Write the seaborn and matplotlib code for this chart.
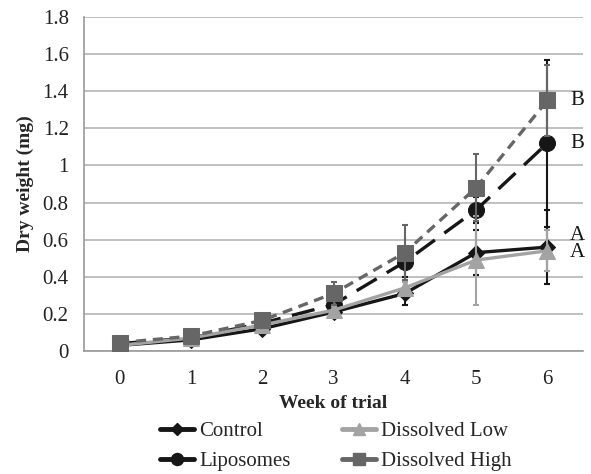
import numpy as np
import pandas as pd
import matplotlib
matplotlib.use("Agg")
import matplotlib.pyplot as plt
import seaborn as sns
from matplotlib.lines import Line2D

weeks = [0, 1, 2, 3, 4, 5, 6]
series_names = ["Control", "Liposomes", "Dissolved Low", "Dissolved High"]
control = [0.03, 0.06, 0.12, 0.21, 0.31, 0.53, 0.56]
control_err = [0.005, 0.01, 0.02, 0.02, 0.06, 0.12, 0.20]
liposomes = [0.04, 0.07, 0.15, 0.25, 0.48, 0.76, 1.12]
liposomes_err = [0.005, 0.01, 0.02, 0.03, 0.08, 0.07, 0.45]
dis_low = [0.03, 0.07, 0.14, 0.22, 0.34, 0.49, 0.54]
dis_low_err = [0.005, 0.01, 0.01, 0.02, 0.03, 0.24, 0.11]
dis_high = [0.045, 0.08, 0.165, 0.31, 0.53, 0.88, 1.35]
dis_high_err = [0.005, 0.01, 0.01, 0.06, 0.15, 0.18, 0.19]
letters = ["A", "B", "A", "B"]
y_ticks = [0, 0.2, 0.4, 0.6, 0.8, 1.0, 1.2, 1.4, 1.6, 1.8]
y_tick_labels = ["0", "0.2", "0.4", "0.6", "0.8", "1", "1.2", "1.4", "1.6", "1.8"]

values = [control, liposomes, dis_low, dis_high]
errors = [control_err, liposomes_err, dis_low_err, dis_high_err]

sns.set_theme(style="white")
plt.rcParams["font.family"] = ["Liberation Serif", "DejaVu Serif"]

colors = {"Control": "#161616", "Liposomes": "#161616",
          "Dissolved Low": "#a3a3a3", "Dissolved High": "#666666"}
markers = {"Control": "D", "Liposomes": "o", "Dissolved Low": "^", "Dissolved High": "s"}
msizes = {"Control": 8, "Liposomes": 11.5, "Dissolved Low": 11, "Dissolved High": 12}
dashes = {"Control": "", "Liposomes": (7, 3.5), "Dissolved Low": "", "Dissolved High": (3, 2)}
zorders = {"Control": 3, "Liposomes": 4, "Dissolved Low": 5, "Dissolved High": 6}
letter_offsets = {"Control": 0.065, "Dissolved Low": -0.01, "Liposomes": 0.0, "Dissolved High": 0.0}

rows = []
for name, v in zip(series_names, values):
    for w, val in zip(weeks, v):
        rows.append({"week": w, "weight": val, "series": name})
df = pd.DataFrame(rows)

fig = plt.figure(figsize=(5.91, 4.74), dpi=100)
ax = fig.add_axes([84 / 591, 1 - 351 / 474, (583 - 84) / 591, (351 - 17) / 474])

for name, v, e in zip(series_names, values, errors):
    sub = df[df["series"] == name]
    ax.errorbar(weeks, v, yerr=e, fmt="none", ecolor=colors[name], elinewidth=1.5,
                capsize=2.5, capthick=1.5, zorder=zorders[name] - 0.5)
    sns.lineplot(data=sub, x="week", y="weight", ax=ax, color=colors[name],
                 marker=markers[name], markersize=msizes[name],
                 markeredgecolor=colors[name], linewidth=2.4,
                 zorder=zorders[name], legend=False)
    if dashes[name]:
        ax.lines[-1].set_dashes(dashes[name])

for name, v, lt in zip(series_names, values, letters):
    ax.text(6.32, v[-1] + letter_offsets[name], lt, fontsize=15, va="center", ha="left",
            color="#161616")

ax.set_xlim(-0.5, 6.5)
ax.set_ylim(0, 1.8)
ax.set_yticks(y_ticks)
ax.set_yticklabels(y_tick_labels)
ax.set_xticks(weeks)
ax.set_xticklabels([str(w) for w in weeks])
ax.set_xticks(np.arange(-0.5, 7.0, 1.0), minor=True)
ax.tick_params(axis="x", which="major", length=0, pad=14, labelsize=15, colors="#222222")
ax.tick_params(axis="x", which="minor", length=6, width=1, color="#9a9a9a", direction="out")
ax.tick_params(axis="y", which="major", length=7, width=1, color="#9a9a9a", direction="out",
               labelsize=15, labelcolor="#222222", pad=4)
ax.grid(axis="y", color="#b5b5b5", linewidth=1.2)
ax.grid(axis="x", visible=False)
for s in ["top", "right"]:
    ax.spines[s].set_visible(False)
for s in ["left", "bottom"]:
    ax.spines[s].set_color("#9a9a9a")
    ax.spines[s].set_linewidth(1.2)
ax.set_axisbelow(True)

ax.set_xlabel("Week of trial", fontsize=14, fontweight="bold", labelpad=4)
ax.set_ylabel("Dry weight (mg)", fontsize=14, fontweight="bold", labelpad=6)

handles = []
for name in series_names:
    handles.append(Line2D([0], [0], color=colors[name], marker=markers[name],
                          markersize=msizes[name] * 0.75, linewidth=3.5, linestyle="-"))
fig.legend(handles, series_names, ncol=2, loc="upper left", bbox_to_anchor=(150 / 591, 1 - 411 / 474),
           frameon=False, fontsize=15, handlelength=1.6, handletextpad=0.25,
           columnspacing=2.5, labelspacing=0.5, borderpad=0)

fig.savefig("out.png", dpi=100)
